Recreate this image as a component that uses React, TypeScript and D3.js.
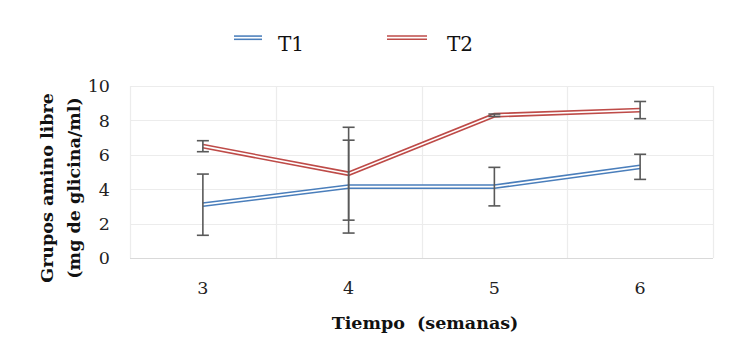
import React from 'react'
import * as d3 from 'd3'

const weeks = ['3', '4', '5', '6']
const t1 = [3.1, 4.15, 4.15, 5.3]
const t1Err = [1.78, 2.7, 1.12, 0.73]
const t2 = [6.5, 4.9, 8.3, 8.6]
const t2Err = [0.32, 2.7, 0.07, 0.5]
const yTicks = [0, 2, 4, 6, 8, 10]

const width = 742
const height = 360
const margin = { top: 86, right: 29, bottom: 102, left: 130 }
const font = "'DejaVu Serif', 'Liberation Serif', serif"

export default function App() {
    const x = d3.scaleBand()
        .domain(weeks)
        .range([margin.left, width - margin.right])

    const y = d3.scaleLinear()
        .domain([0, 10])
        .range([height - margin.bottom, margin.top])

    const cx = (d: string) => (x(d) || 0) + x.bandwidth() / 2

    const line = d3.line<number>()
        .x((d, i) => cx(weeks[i]))
        .y(d => y(d))

    const series = [
        { name: 'T1', values: t1, errs: t1Err, color: '#4a7ebb' },
        { name: 'T2', values: t2, errs: t2Err, color: '#be4b48' }
    ]

    // vertical gridlines at the band edges
    const vLines = weeks.map(w => x(w) || 0).concat([width - margin.right])

    return (
        <svg width={width} height={height} style={{ position: 'absolute', left: 0, top: 0, background: '#fff' }}>
            {/* grid */}
            <g>
                {yTicks.map(t => (
                    <line key={'h' + t} x1={margin.left} x2={width - margin.right}
                        y1={Math.round(y(t)) + 0.5} y2={Math.round(y(t)) + 0.5}
                        stroke={t === 0 ? '#d9d9d9' : '#ececec'} strokeWidth={1.2} />
                ))}
                {vLines.map((v, i) => (
                    <line key={'v' + i} x1={Math.round(v) + 0.5} x2={Math.round(v) + 0.5}
                        y1={y(10)} y2={y(0)} stroke="#ececec" strokeWidth={1.2} />
                ))}
            </g>

            {/* y tick labels */}
            {yTicks.map(t => (
                <text key={'yt' + t} x={110} y={y(t)} dy="0.36em" textAnchor="end"
                    fontFamily={font} fontSize={17.5} fill="#222">{t}</text>
            ))}

            {/* x tick labels */}
            {weeks.map(w => (
                <text key={'xt' + w} x={cx(w)} y={294} textAnchor="middle"
                    fontFamily={font} fontSize={17.5} fill="#222">{w}</text>
            ))}

            {/* series lines (double line look) */}
            {series.map(s => (
                <g key={s.name}>
                    <path d={line(s.values) || ''} fill="none" stroke={s.color} strokeWidth={4.8} strokeLinejoin="miter" />
                    <path d={line(s.values) || ''} fill="none" stroke="#fff" strokeWidth={1.7} strokeLinejoin="miter" />
                </g>
            ))}

            {/* error bars */}
            {series.map(s => (
                <g key={'e' + s.name} stroke="#595959" strokeWidth={1.6}>
                    {s.values.map((v, i) => {
                        const px = cx(weeks[i])
                        const top = y(v + s.errs[i])
                        const bot = y(v - s.errs[i])
                        return (
                            <g key={i}>
                                <line x1={px} x2={px} y1={top} y2={bot} />
                                <line x1={px - 6} x2={px + 6} y1={top} y2={top} />
                                <line x1={px - 6} x2={px + 6} y1={bot} y2={bot} />
                            </g>
                        )
                    })}
                </g>
            ))}

            {/* legend */}
            <g>
                <line x1={234} x2={262} y1={37.7} y2={37.7} stroke={series[0].color} strokeWidth={4.8} />
                <line x1={234} x2={262} y1={37.7} y2={37.7} stroke="#fff" strokeWidth={1.7} />
                <text x={278} y={51} fontFamily={font} fontSize={20} fill="#111">T1</text>
                <line x1={387} x2={427} y1={37.7} y2={37.7} stroke={series[1].color} strokeWidth={4.8} />
                <line x1={387} x2={427} y1={37.7} y2={37.7} stroke="#fff" strokeWidth={1.7} />
                <text x={447} y={51} fontFamily={font} fontSize={20} fill="#111">T2</text>
            </g>

            {/* axis titles */}
            <text x={425} y={329} textAnchor="middle" fontFamily={font} fontSize={17.5} fontWeight="bold" fill="#111"
                style={{ whiteSpace: 'pre' }}>
                {'Tiempo  (semanas)'}
            </text>
            <g transform={`translate(53,${(y(0) + y(10)) / 2 + 16}) rotate(-90)`}>
                <text x={0} y={0} textAnchor="middle" fontFamily={font} fontSize={17.5} fontWeight="bold" fill="#111">
                    Grupos amino libre
                </text>
                <text x={0} y={27} textAnchor="middle" fontFamily={font} fontSize={17.5} fontWeight="bold" fill="#111">
                    (mg de glicina/ml)
                </text>
            </g>
        </svg>
    )
}
